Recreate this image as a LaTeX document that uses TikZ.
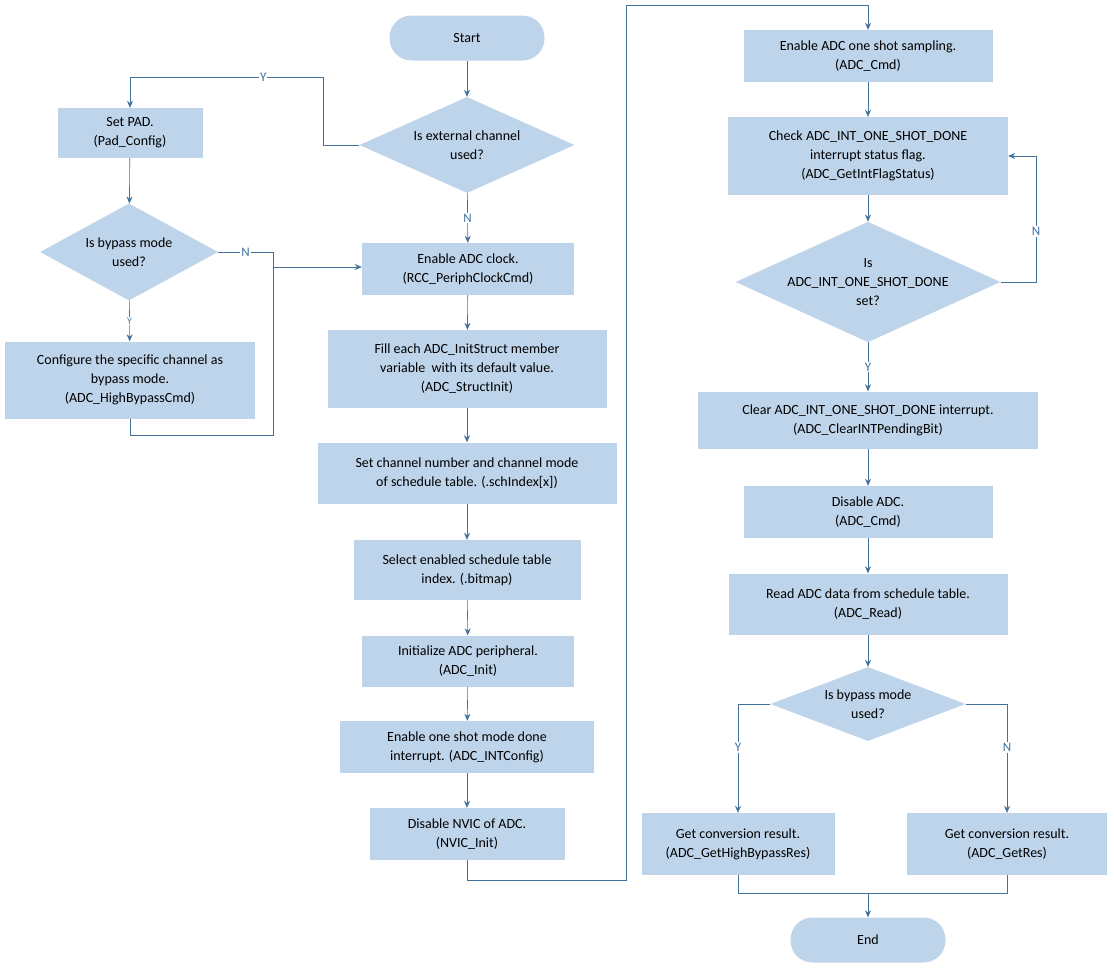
\documentclass[tikz,border=0pt]{standalone}
\usepackage{fontspec}
\setmainfont{Carlito}
\usetikzlibrary{shapes.geometric,arrows.meta}
\definecolor{boxfill}{RGB}{190,212,234}
\definecolor{flowline}{RGB}{65,113,156}
\tikzset{
	box/.style={rectangle,fill=boxfill,align=center,inner sep=0pt},
	term/.style={rectangle,rounded corners=22pt,fill=boxfill,align=center,minimum width=155pt,minimum height=45pt},
	dec/.style={diamond,aspect=2.2,fill=boxfill,align=center,inner sep=0pt},
	flow/.style={-{Stealth[length=7pt,width=6pt]},flowline,semithick},
	line/.style={flowline,semithick},
	lab/.style={font=\fontsize{13}{15}\selectfont}
}
\begin{document}
\begin{tikzpicture}[x=1pt,y=-1pt,font=\fontsize{14}{19}\selectfont]
	\useasboundingbox (0,0) rectangle (1114,975);
	%middle column
	\node[term] (start) at (467,38) {Start};
	\node[dec,minimum width=215pt,minimum height=96pt] (ext) at (467,145) {Is external channel\\used?};
	\node[box,minimum width=212pt,minimum height=52pt] (clk) at (468,269) {Enable ADC clock.\\(RCC\_PeriphClockCmd)};
	\node[box,minimum width=279pt,minimum height=78pt] (fill) at (467,369) {Fill each ADC\_InitStruct member\\variable\ \ with its default value.\\(ADC\_StructInit)};
	\node[box,minimum width=299pt,minimum height=61pt] (sch) at (467,473) {Set channel number and channel mode\\of schedule table. (.schIndex[x])};
	\node[box,minimum width=227pt,minimum height=60pt] (sel) at (467,570) {Select enabled schedule table\\index. (.bitmap)};
	\node[box,minimum width=212pt,minimum height=51pt] (init) at (468,661) {Initialize ADC peripheral.\\(ADC\_Init)};
	\node[box,minimum width=254pt,minimum height=52pt] (intc) at (467,747) {Enable one shot mode done\\interrupt. (ADC\_INTConfig)};
	\node[box,minimum width=195pt,minimum height=52pt] (nvic) at (467,834) {Disable NVIC of ADC.\\(NVIC\_Init)};
	%left column
	\node[box,minimum width=145pt,minimum height=50pt] (pad) at (130,133) {Set PAD.\\(Pad\_Config)};
	\node[dec,minimum width=178pt,minimum height=97pt] (byp) at (129,252) {Is bypass mode\\used?};
	\node[box,minimum width=250pt,minimum height=77pt] (cfg) at (130,380) {Configure the specific channel as\\bypass mode.\\(ADC\_HighBypassCmd)};
	%right column
	\node[box,minimum width=249pt,minimum height=52pt] (shot) at (868,56) {Enable ADC one shot sampling.\\(ADC\_Cmd)};
	\node[box,minimum width=280pt,minimum height=78pt] (chk) at (868,156) {Check ADC\_INT\_ONE\_SHOT\_DONE\\interrupt status flag.\\(ADC\_GetIntFlagStatus)};
	\node[dec,minimum width=261pt,minimum height=97pt] (done) at (868,282) {Is\\ADC\_INT\_ONE\_SHOT\_DONE\\set?};
	\node[box,minimum width=340pt,minimum height=57pt] (clr) at (868,420) {Clear ADC\_INT\_ONE\_SHOT\_DONE interrupt.\\(ADC\_ClearINTPendingBit)};
	\node[box,minimum width=249pt,minimum height=52pt] (dis) at (868,512) {Disable ADC.\\(ADC\_Cmd)};
	\node[box,minimum width=279pt,minimum height=61pt] (rd) at (868,604) {Read ADC data from schedule table.\\(ADC\_Read)};
	\node[dec,minimum width=195pt,minimum height=74pt] (byp2) at (868,704) {Is bypass mode\\used?};
	\node[box,minimum width=193pt,minimum height=62pt] (resh) at (738,844) {Get conversion result.\\(ADC\_GetHighBypassRes)};
	\node[box,minimum width=200pt,minimum height=62pt] (res) at (1007,844) {Get conversion result.\\(ADC\_GetRes)};
	\node[term] (end) at (868,940) {End};
	\coordinate (join) at (868,893);
	
	%middle arrows
	\draw[flow] (start) -- (ext);
	\draw[flow] (ext) -- node[lab,fill=white,inner sep=1pt] {N} (clk);
	\draw[flow] (clk) -- (fill);
	\draw[flow] (fill) -- (sch);
	\draw[flow] (sch) -- (sel);
	\draw[flow] (sel) -- (init);
	\draw[flow] (init) -- (intc);
	\draw[flow] (intc) -- (nvic);
	\draw[flow] (nvic.south) |- (626,880) |- (868,5) -- (shot.north);
	%left arrows
	\draw[flow] (ext.west) -- (323,145) -- (323,77) -- node[lab,fill=white,inner sep=1pt,pos=0.31] {Y} (130,77) -- (pad.north);
	\draw[flow] (pad) -- (byp);
	\draw[flow] (byp) -- node[lab,fill=white,inner sep=1pt,font=\fontsize{10}{12}\selectfont] {Y} (cfg);
	\draw[line] (byp.east) -- node[lab,fill=white,inner sep=1pt] {N} (273,252) -- (273,267);
	\draw[line] (cfg.south) |- (273,435) -- (273,267);
	\draw[flow] (273,267) -- (clk.west |- 0,267);
	%right arrows
	\draw[flow] (shot) -- (chk);
	\draw[flow] (chk) -- (done);
	\draw[flow] (done.east) -- (1036,282) -- node[lab,fill=white,inner sep=1pt,pos=0.4] {N} (1036,156) -- (chk.east);
	\draw[flow] (done) -- node[lab,fill=white,inner sep=1pt,pos=0.5] {Y} (clr);
	\draw[flow] (clr) -- (dis);
	\draw[flow] (dis) -- (rd);
	\draw[flow] (rd) -- (byp2);
	\draw[flow] (byp2.west) -| node[lab,fill=white,inner sep=1pt,pos=0.7] {Y} (resh.north);
	\draw[flow] (byp2.east) -| node[lab,fill=white,inner sep=1pt,pos=0.7] {N} (res.north);
	\draw[line] (resh.south) |- (join);
	\draw[line] (res.south) |- (join);
	\draw[flow] (join) -- (end);
\end{tikzpicture}
\end{document}
